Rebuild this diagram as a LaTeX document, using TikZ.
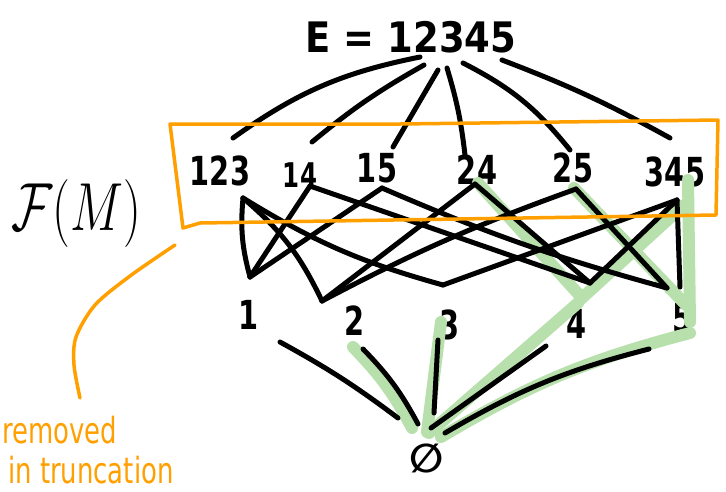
\RequirePackage{fix-cm}
\documentclass[tikz,border=0pt]{standalone}
\usepackage{fontspec}
\usepackage{graphicx}
\newfontfamily\hand[FakeStretch=0.72]{DejaVu Sans}
\newfontfamily\handw[FakeStretch=0.88]{DejaVu Sans}
\newfontfamily\djv{DejaVu Sans}
\definecolor{hl}{RGB}{184,224,172}
\definecolor{org}{RGB}{255,160,0}
\begin{document}
\begin{tikzpicture}[x=1pt,y=-1pt,
  edge/.style={line width=5pt,line cap=round,line join=round,black},
  hilite/.style={line width=12pt,line cap=round,hl},
  obox/.style={line width=3.5pt,org,line join=round,line cap=round},
  lbl/.style={inner sep=0pt,font=\hand\bfseries\fontsize{40}{40}\selectfont},
  otext/.style={inner sep=0pt,org,font=\hand\fontsize{36}{36}\selectfont},
]
\useasboundingbox (0,0) rectangle (726,491);
\fill[white] (0,0) rectangle (726,491);

% ---------- labels ----------
\node[inner sep=0pt,font=\handw\bfseries\fontsize{42}{42}\selectfont] (E) at (411,37) {E = 12345};
\node[lbl] (f123) at (220,171) {123};
\node[lbl,font=\hand\bfseries\fontsize{34}{34}\selectfont] (f14) at (300,175) {14};
\node[lbl] (f15) at (377,168) {15};
\node[lbl] (f24) at (477,170) {24};
\node[lbl] (f25) at (573,168) {25};
\node[lbl] (f345) at (675,172) {345};
\node[lbl] (n1) at (249,315) {1};
\node[lbl] (n2) at (355,321) {2};
\node[lbl] (n3) at (450,325) {3};
\node[lbl] (n4) at (577,324) {4};
\node[lbl] (n5) at (683,318) {5};
\node[inner sep=0pt,font=\djv\bfseries\fontsize{40}{40}\selectfont] (empty) at (427,458) {∅};
\node[inner sep=0pt,font=\fontsize{68}{68}\selectfont] (FM) at (76,213) {\scalebox{0.74}[1]{$\mathcal{F}(M)$}};
\node[otext,anchor=base west] (rem) at (2,443) {removed};
\node[otext,anchor=base west] (trunc) at (8,483) {in truncation};

% ---------- connection points ----------
\coordinate (e1) at (420,57);  \coordinate (e2) at (424,65);
\coordinate (e3) at (438,70);  \coordinate (e4) at (447,68);
\coordinate (e5) at (463,63);  \coordinate (e6) at (502,60);
\coordinate (t123) at (233,138); \coordinate (t14) at (312,142);
\coordinate (t15) at (393,147);  \coordinate (t24) at (465,155);
\coordinate (t25) at (570,150);  \coordinate (t345) at (670,138);
\coordinate (b123) at (243,198); \coordinate (b14) at (310,186);
\coordinate (b15) at (382,188);  \coordinate (b24) at (475,184);
\coordinate (b25) at (576,189);  \coordinate (b345) at (677,200);
\coordinate (a1) at (250,277); \coordinate (a2) at (322,301);
\coordinate (a3) at (443,285); \coordinate (a4) at (590,283);
\coordinate (a5) at (667,288); \coordinate (a5r) at (680,287);
\coordinate (u1) at (280,342); \coordinate (u2) at (363,349);
\coordinate (u3) at (438,340); \coordinate (u4) at (546,346);
\coordinate (u5) at (649,349);
\coordinate (d1) at (398,418); \coordinate (d2) at (418,424);
\coordinate (d3) at (434,413); \coordinate (d4) at (431,428);
\coordinate (d5) at (445,433);
% green highlight points
\coordinate (g24) at (478,183); \coordinate (g4) at (582,298);
\coordinate (g345) at (684,205); \coordinate (g25) at (574,188);
\coordinate (g5) at (686,305); \coordinate (g345t) at (688,180);
\coordinate (g5b) at (690,322);
\coordinate (h2) at (353,347); \coordinate (h3) at (441,322);
\coordinate (h4) at (578,303); \coordinate (h5) at (690,333);
\coordinate (z2) at (412,428); \coordinate (z3) at (427,432);
\coordinate (z4) at (429,433); \coordinate (z5) at (441,437);

% ---------- green highlights ----------
\draw[hilite] (g24) -- (g4) -- (g345);
\draw[hilite] (g25) -- (g5);
\draw[hilite] (g345t) -- (g5b);
\draw[hilite] (h2) to[bend left=8] (z2);
\draw[hilite] (h3) -- (z3);
\draw[hilite] (h4) -- (z4);
\draw[hilite] (h5) to[bend right=8] (z5);

% ---------- E to flats ----------
\draw[edge] (e1) to[bend right=12] (t123);
\draw[edge] (e2) to[bend right=5] (t14);
\draw[edge] (e3) -- (t15);
\draw[edge] (e4) to[bend left=5] (t24);
\draw[edge] (e5) to[bend left=12] (t25);
\draw[edge] (e6) to[bend left=4] (t345);

% ---------- flats to atoms ----------
\draw[edge] (b123) to[bend right=10] (a1);
\draw[edge] (b14) -- (a1);
\draw[edge] (b15) -- (a1);
\draw[edge] (b123) to[bend left=12] (a2);
\draw[edge] (b24) -- (a2);
\draw[edge] (b25) to[bend right=4] (a2);
\draw[edge] (b123) to[bend right=8] (a3);
\draw[edge] (a3) -- (b345);
\draw[edge] (b14) -- (a4);
\draw[edge] (b24) -- (a4);
\draw[edge] (a4) -- (b345);
\draw[edge] (b15) to[bend right=4] (a5);
\draw[edge] (b25) -- (a5);
\draw[edge] (b345) -- (a5r);

% ---------- atoms to empty set ----------
\draw[edge] (u1) to[bend left=4] (d1);
\draw[edge] (u2) to[bend left=8] (d2);
\draw[edge] (u3) -- (d3);
\draw[edge] (u4) -- (d4);
\draw[edge] (u5) to[bend right=8] (d5);

% ---------- orange box and leader ----------
\draw[obox] (170,124) -- (400,124) -- (718,120) -- (716,215) -- (200,223) -- (183,228) -- cycle;
\coordinate (l1) at (175,245);
\coordinate (l2) at (80,398);
\draw[obox] plot[smooth] coordinates {(l1) (130,276) (95,305) (76,337) (74,365) (l2)};
\end{tikzpicture}
\end{document}
